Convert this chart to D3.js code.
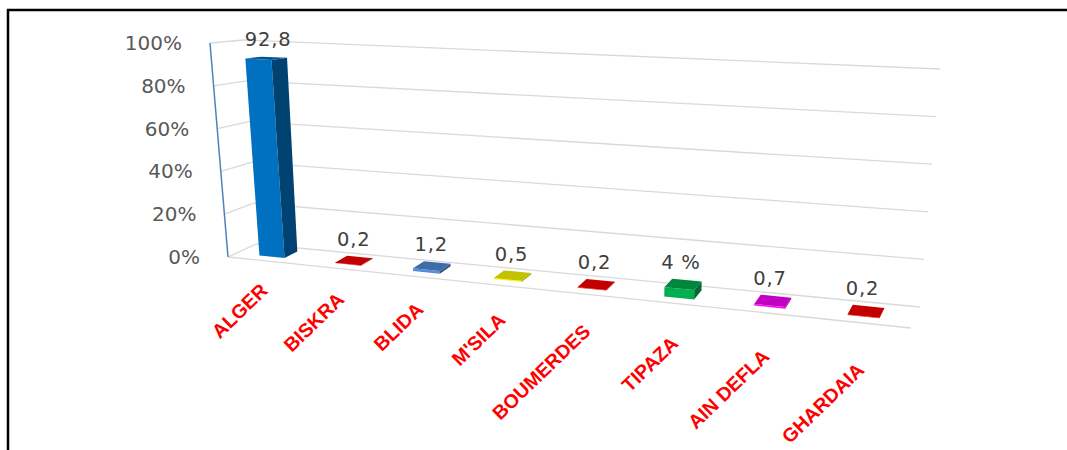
<!DOCTYPE html>
<html><head><meta charset="utf-8">
<script src="https://cdn.jsdelivr.net/npm/d3@7"></script>
<style>html,body{margin:0;padding:0;background:#fff}svg{display:block}</style>
</head><body>
<svg id="c" width="1067" height="450"></svg>
<script>
// ---- data ----
const categories = ["ALGER","BISKRA","BLIDA","M'SILA","BOUMERDES","TIPAZA","AIN DEFLA","GHARDAIA"];
const values = [92.8, 0.2, 1.2, 0.5, 0.2, 4, 0.7, 0.2];
const valueLabels = ["92,8","0,2","1,2","0,5","0,2","4 %","0,7","0,2"];
const yTicks = [0, 20, 40, 60, 80, 100];
const yTickLabels = ["0%","20%","40%","60%","80%","100%"];

// ---- style ----
const palette = ["#0070C0","#FF0000","#538EDD","#FFFF00","#FF0000","#00B050","#FF00FF","#FF0000"];

const svg = d3.select("#c");

// 3D box corners (x: left/right, y: bottom/top, z: front/back) in screen space
const C = {
  p000:[228,257], p100:[911,328], p010:[210,43], p110:[922,80],
  p001:[256,244], p101:[920,307], p011:[244,40], p111:[940,69]
};
const lerp = (a,b,t) => [a[0]+(b[0]-a[0])*t, a[1]+(b[1]-a[1])*t];
function proj(u,v,z){
  const f = lerp(lerp(C.p000,C.p100,u), lerp(C.p010,C.p110,u), v);
  const b = lerp(lerp(C.p001,C.p101,u), lerp(C.p011,C.p111,u), v);
  return lerp(f,b,z);
}
const persp = 1.152;
const warp = u => u/(u + persp*(1-u));

const x = d3.scalePoint().domain(categories).range([0.06, 0.935]);
const y = d3.scaleLinear().domain([0,100]).range([0,1]);
const halfW = 0.021, zF = 0.3, zB = 0.78;

// frame
svg.append("rect").attr("x",8).attr("y",10).attr("width",1100).attr("height",480)
  .attr("fill","none").attr("stroke","#000").attr("stroke-width",2.5);

const line = d3.line();
const grid = svg.append("g").attr("fill","none").attr("stroke","#D9D9D9").attr("stroke-width",1.3);
yTicks.forEach(t => {
  const v = y(t);
  grid.append("path").attr("d", line([proj(0,v,0), proj(0,v,1)]));
  grid.append("path").attr("d", line([proj(0,v,1), proj(1,v,1)]));
});
grid.append("path").attr("d", line([proj(0,0,0), proj(1,0,0)]));

// vertical axis line
svg.append("path").attr("d", line([proj(0,0,0), proj(0,1,0)]))
  .attr("stroke","#4F81BD").attr("stroke-width",1.5).attr("fill","none");

// tick labels
svg.append("g").selectAll("text").data(yTicks).join("text")
  .attr("x", t => proj(0,y(t),0)[0] - 28)
  .attr("y", t => proj(0,y(t),0)[1] + 7)
  .attr("text-anchor","end")
  .attr("font-family","DejaVu Sans").attr("font-size",20).attr("fill","#595959")
  .text((t,i) => yTickLabels[i]);

// bars
const shade = (c,k) => { const r = d3.rgb(c); return d3.rgb(r.r*k, r.g*k, r.b*k).formatHex(); };
const bars = svg.append("g");
categories.forEach((cat,i) => {
  const uc = x(cat);
  const u0 = warp(uc-halfW), u1 = warp(uc+halfW);
  const v = y(values[i]);
  const col = palette[i];
  const poly = pts => "M" + pts.map(p => p.join(",")).join("L") + "Z";
  bars.append("path").attr("d", poly([proj(u0,0,zF),proj(u1,0,zF),proj(u1,v,zF),proj(u0,v,zF)]))
    .attr("fill", col);
  bars.append("path").attr("d", poly([proj(u1,0,zF),proj(u1,0,zB),proj(u1,v,zB),proj(u1,v,zF)]))
    .attr("fill", shade(col,0.6));
  bars.append("path").attr("d", poly([proj(u0,v,zF),proj(u1,v,zF),proj(u1,v,zB),proj(u0,v,zB)]))
    .attr("fill", shade(col,0.76));
});

// value labels
svg.append("g").selectAll("text").data(categories).join("text")
  .attr("x", (c,i) => { const uc = warp(x(c)); return proj(uc, y(values[i]), zB)[0] - 6; })
  .attr("y", (c,i) => { const uc = warp(x(c)); return proj(uc, y(values[i]), zB)[1] - 11; })
  .attr("text-anchor","middle")
  .attr("font-family","DejaVu Sans").attr("font-size",19.5).attr("letter-spacing",0.8)
  .attr("fill","#404040")
  .text((c,i) => valueLabels[i]);

// category labels
svg.append("g").selectAll("text").data(categories).join("text")
  .attr("transform", c => {
    const uc = warp(x(c));
    const p = proj(uc,0,0);
    return `translate(${p[0]+5},${p[1] + 31 + 20*Math.pow(uc,1.5)}) rotate(-44)`;
  })
  .attr("text-anchor","end")
  .attr("font-family","Liberation Sans").attr("font-weight","bold").attr("font-size",19.5)
  .attr("fill","#FF0000")
  .text(c => c);
</script>
</body></html>
